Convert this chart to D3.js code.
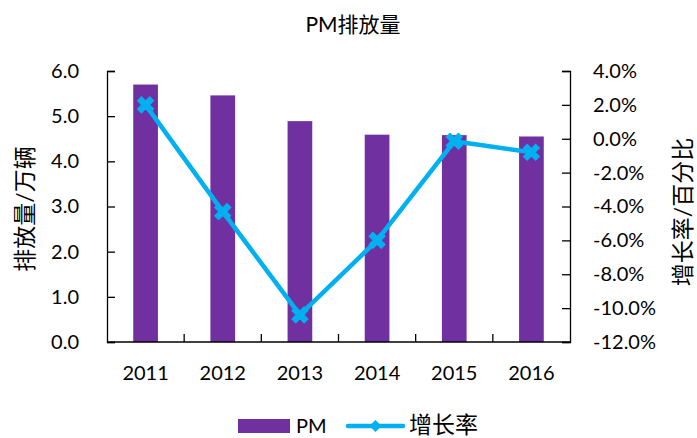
<!DOCTYPE html>
<html>
<head>
<meta charset="utf-8">
<script src="https://cdn.jsdelivr.net/npm/d3@7"></script>
<style>
  body { margin: 0; background: #fff; }
  text { font-family: Lato, "Noto Sans CJK SC", sans-serif; fill: #000; }
</style>
</head>
<body>
<div id="chart"></div>
<script>
// data
var years = ["2011", "2012", "2013", "2014", "2015", "2016"];
var pm = [5.70, 5.46, 4.89, 4.59, 4.58, 4.55];          // 万辆
var growth = [2.0, -4.3, -10.4, -6.0, -0.15, -0.8];     // %
var leftTicks = [0, 1, 2, 3, 4, 5, 6];
var rightTicks = [4, 2, 0, -2, -4, -6, -8, -10, -12];

var width = 697, height = 438;
var margin = {top: 71, right: 127, bottom: 96, left: 107};
var purple = "#7030A0", blue = "#00B0F0";

var svg = d3.select("#chart")
  .append("svg")
    .attr("width", width)
    .attr("height", height);

var g = svg.append("g")
    .attr("transform", "translate(" + margin.left + "," + margin.top + ")");

var w = width - margin.left - margin.right,
    h = height - margin.top - margin.bottom;

var x = d3.scaleBand()
    .domain(years)
    .range([0, w])
    .paddingInner(0.68)
    .paddingOuter(0.34);

var y = d3.scaleLinear().domain([0, 6]).range([h, 0]);
var y2 = d3.scaleLinear().domain([-12, 4]).range([h, 0]);

// bars
g.selectAll("rect.bar")
  .data(pm)
  .enter()
  .append("rect")
    .attr("class", "bar")
    .attr("x", function(d, i){ return x(years[i]); })
    .attr("y", function(d){ return y(d); })
    .attr("width", x.bandwidth())
    .attr("height", function(d){ return h - y(d); })
    .style("fill", purple);

// left axis
var yAxis = g.append("g")
    .call(d3.axisLeft(y).tickValues(leftTicks).tickSizeInner(-8).tickSizeOuter(-8)
      .tickPadding(28).tickFormat(d3.format(".1f")));

// right axis
var y2Axis = g.append("g")
    .attr("transform", "translate(" + w + ",0)")
    .call(d3.axisRight(y2).tickValues(rightTicks).tickSizeInner(-8).tickSizeOuter(-8)
      .tickPadding(23).tickFormat(function(d){ return d.toFixed(1) + "%"; }));

// bottom axis, labels only, then boundary ticks
var xAxis = g.append("g")
    .attr("transform", "translate(0," + h + ")")
    .call(d3.axisBottom(x).tickSize(0).tickPadding(24));
xAxis.select(".domain").remove();

g.append("line")
    .attr("x1", 0).attr("x2", w)
    .attr("y1", h).attr("y2", h)
    .style("stroke", "#000").style("stroke-width", 1.3);

g.selectAll("line.bound")
  .data(years.slice(1))
  .enter()
  .append("line")
    .attr("class", "bound")
    .attr("x1", function(d){ return x(d) - x.step() * x.paddingInner() / 2; })
    .attr("x2", function(d){ return x(d) - x.step() * x.paddingInner() / 2; })
    .attr("y1", h).attr("y2", h - 8)
    .style("stroke", "#000").style("stroke-width", 1.3);

[yAxis, y2Axis, xAxis].forEach(function(a){
  a.selectAll("text").attr("font-size", "20px").style("font-family", "Lato, sans-serif");
  a.selectAll("path, line").style("stroke", "#000").style("stroke-width", 1.3);
});

// growth line
var line = d3.line()
    .x(function(d, i){ return x(years[i]) + x.bandwidth() / 2; })
    .y(function(d){ return y2(d); });

g.append("path")
    .datum(growth)
    .attr("d", line)
    .style("fill", "none")
    .style("stroke", blue)
    .style("stroke-width", 4.5)
    .style("stroke-linejoin", "round");

g.selectAll("path.mark")
  .data(growth)
  .enter()
  .append("path")
    .attr("class", "mark")
    .attr("transform", function(d, i){
      return "translate(" + (x(years[i]) + x.bandwidth() / 2) + "," + y2(d) + ")"; })
    .attr("d", "M-6.5,-6.5L6.5,6.5M6.5,-6.5L-6.5,6.5")
    .style("stroke", blue)
    .style("stroke-width", 6.5);

// title
svg.append("text")
    .attr("x", 353)
    .attr("y", 32)
    .attr("text-anchor", "middle")
    .attr("font-size", "21px")
    .text("PM排放量");

// axis titles
svg.append("text")
    .attr("transform", "translate(33,209) rotate(-90)")
    .attr("text-anchor", "middle")
    .attr("font-size", "23px")
    .text("排放量/万辆");

svg.append("text")
    .attr("transform", "translate(691,212) rotate(-90)")
    .attr("text-anchor", "middle")
    .attr("font-size", "23px")
    .text("增长率/百分比");

// legend
var legend = svg.append("g");
legend.append("rect")
    .attr("x", 238).attr("y", 419)
    .attr("width", 52).attr("height", 14)
    .style("fill", purple);
legend.append("text")
    .attr("x", 296).attr("y", 433)
    .attr("font-size", "20px")
    .text("PM");
legend.append("line")
    .attr("x1", 348).attr("x2", 403)
    .attr("y1", 426).attr("y2", 426)
    .style("stroke", blue).style("stroke-width", 4.5)
    .style("stroke-linecap", "round");
legend.append("path")
    .attr("transform", "translate(375.5,426)")
    .attr("d", "M0,-6L6,0L0,6L-6,0Z")
    .style("fill", blue);
legend.append("text")
    .attr("x", 409).attr("y", 433)
    .attr("font-size", "23px")
    .text("增长率");
</script>
</body>
</html>
